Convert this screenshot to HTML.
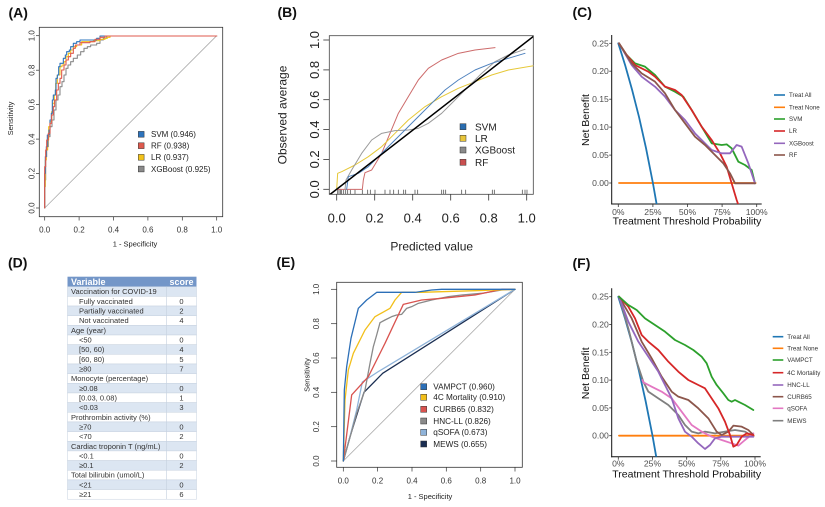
<!DOCTYPE html>
<html>
<head>
<meta charset="utf-8">
<style>
  html,body{margin:0;padding:0;background:#fff;}
  svg{display:block;font-family:"Liberation Sans",Arial,sans-serif;}
  .ns{vector-effect:non-scaling-stroke;fill:none;stroke-linejoin:round;stroke-linecap:round;}
</style>
</head>
<body>
<svg width="825" height="507" viewBox="0 0 825 507" xmlns="http://www.w3.org/2000/svg">
<defs>
  <clipPath id="clipC"><rect x="611.7" y="30" width="152" height="174"/></clipPath>
  <clipPath id="clipF"><rect x="611.7" y="285" width="152" height="171.7"/></clipPath>
  <clipPath id="clipB"><rect x="329.3" y="35.7" width="204" height="158.6"/></clipPath>
</defs>

<!-- ================= PANEL LABELS ================= -->
<g font-weight="bold" font-size="14" fill="#111">
  <text x="8.5" y="17.5">(A)</text>
  <text x="277.5" y="16.8">(B)</text>
  <text x="572.5" y="17">(C)</text>
  <text x="8" y="267.5">(D)</text>
  <text x="276.5" y="266.8">(E)</text>
  <text x="572.5" y="267.8">(F)</text>
</g>

<!-- ================= PANEL A ================= -->
<g>
  <rect x="39.3" y="27.3" width="183.4" height="189.4" fill="none" stroke="#333" stroke-width="0.8"/>
  <line x1="44.7" y1="208" x2="216.7" y2="35.7" stroke="#aaa" stroke-width="0.8"/>
  <g stroke="#333" stroke-width="0.7">
    <line x1="44.7" y1="216.7" x2="44.7" y2="220.5"/>
    <line x1="79.1" y1="216.7" x2="79.1" y2="220.5"/>
    <line x1="113.5" y1="216.7" x2="113.5" y2="220.5"/>
    <line x1="147.9" y1="216.7" x2="147.9" y2="220.5"/>
    <line x1="182.3" y1="216.7" x2="182.3" y2="220.5"/>
    <line x1="216.7" y1="216.7" x2="216.7" y2="220.5"/>
    <line x1="39.3" y1="208" x2="36" y2="208"/>
    <line x1="39.3" y1="173.5" x2="36" y2="173.5"/>
    <line x1="39.3" y1="139.1" x2="36" y2="139.1"/>
    <line x1="39.3" y1="104.6" x2="36" y2="104.6"/>
    <line x1="39.3" y1="70.2" x2="36" y2="70.2"/>
    <line x1="39.3" y1="35.7" x2="36" y2="35.7"/>
  </g>
  <g font-size="8" fill="#333" text-anchor="middle">
    <text x="44.7" y="232.5">0.0</text>
    <text x="79.1" y="232.5">0.2</text>
    <text x="113.5" y="232.5">0.4</text>
    <text x="147.9" y="232.5">0.6</text>
    <text x="182.3" y="232.5">0.8</text>
    <text x="216.7" y="232.5">1.0</text>
    <text transform="translate(34.5,208) rotate(-90)">0.0</text>
    <text transform="translate(34.5,173.5) rotate(-90)">0.2</text>
    <text transform="translate(34.5,139.1) rotate(-90)">0.4</text>
    <text transform="translate(34.5,104.6) rotate(-90)">0.6</text>
    <text transform="translate(34.5,70.2) rotate(-90)">0.8</text>
    <text transform="translate(34.5,35.7) rotate(-90)">1.0</text>
  </g>
  <text x="135" y="246.5" font-size="7.5" fill="#222" text-anchor="middle">1 - Specificity</text>
  <text transform="translate(13,118.5) rotate(-90)" font-size="7.5" fill="#222" text-anchor="middle">Sensitivity</text>

  <g transform="scale(0.33333)">
    <path class="ns" stroke="#8a8a8a" stroke-width="1.1" d="M134,624 V540 H137 V470 H140 V440 H145 V410 H150 V380 H156 V360 H162 V330 H168 V300 H174 V285 H180 V260 H186 V245 H192 V225 H198 V205 H204 V195 H212 V185 H220 V175 H232 V165 H242 V155 H252 V145 H262 V140 H272 V135 H290 V130 H300 V120 H310 V115 H320 V108 H650"/>
    <path class="ns" stroke="#f2c21b" stroke-width="1.1" d="M134,624 V560 H136 V480 H139 V450 H143 V420 H146 V380 H150 V365 H155 V335 H158 V310 H163 V285 H167 V250 H172 V225 H180 V200 H186 V195 H192 V185 H198 V170 H205 V160 H212 V150 H220 V140 H230 V135 H245 V125 H280 V122 H300 V118 H315 V115 H322 V112 H330 V108 H650"/>
    <path class="ns" stroke="#2e74bd" stroke-width="1.1" d="M134,624 V520 H136 V470 H139 V440 H142 V405 H147 V390 H150 V360 H154 V340 H157 V300 H160 V285 H166 V270 H168 V235 H172 V225 H176 V200 H180 V190 H190 V175 H196 V165 H200 V155 H208 V150 H212 V140 H220 V130 H230 V125 H240 V120 H290 V115 H300 V108 H650"/>
    <path class="ns" stroke="#df5a4e" stroke-width="1.1" d="M134,624 V500 H137 V450 H140 V420 H145 V400 H150 V370 H155 V345 H160 V320 H164 V300 H170 V270 H175 V250 H180 V235 H185 V210 H192 V195 H198 V180 H205 V170 H212 V160 H220 V145 H226 V135 H240 V128 H270 V125 H285 V118 H300 V112 H315 V108 H650"/>
  </g>

  <g stroke="#333" stroke-width="0.5">
    <rect x="138.3" y="131.4" width="5.8" height="5.8" fill="#2e74bd"/>
    <rect x="138.3" y="142.8" width="5.8" height="5.8" fill="#df5a4e"/>
    <rect x="138.3" y="154.4" width="5.8" height="5.8" fill="#f2c21b"/>
    <rect x="138.3" y="166.1" width="5.8" height="5.8" fill="#8a8a8a"/>
  </g>
  <g font-size="8" fill="#222">
    <text x="151" y="137.2">SVM (0.946)</text>
    <text x="151" y="148.6">RF (0.938)</text>
    <text x="151" y="160.2">LR (0.937)</text>
    <text x="151" y="171.9">XGBoost (0.925)</text>
  </g>
</g>

<!-- ================= PANEL B ================= -->
<g>
  <rect x="329.3" y="35.7" width="204" height="158.6" fill="none" stroke="#444" stroke-width="0.8"/>
  <g stroke="#333" stroke-width="0.8">
    <line x1="336.7" y1="194.3" x2="336.7" y2="200.5"/>
    <line x1="374.7" y1="194.3" x2="374.7" y2="200.5"/>
    <line x1="412.7" y1="194.3" x2="412.7" y2="200.5"/>
    <line x1="450.7" y1="194.3" x2="450.7" y2="200.5"/>
    <line x1="488.7" y1="194.3" x2="488.7" y2="200.5"/>
    <line x1="526.7" y1="194.3" x2="526.7" y2="200.5"/>
    <line x1="329.3" y1="189.3" x2="323.3" y2="189.3"/>
    <line x1="329.3" y1="159.4" x2="323.3" y2="159.4"/>
    <line x1="329.3" y1="129.6" x2="323.3" y2="129.6"/>
    <line x1="329.3" y1="99.7" x2="323.3" y2="99.7"/>
    <line x1="329.3" y1="69.9" x2="323.3" y2="69.9"/>
    <line x1="329.3" y1="40" x2="323.3" y2="40"/>
  </g>
  <g font-size="13" fill="#222" text-anchor="middle">
    <text x="336.7" y="222.5">0.0</text>
    <text x="374.7" y="222.5">0.2</text>
    <text x="412.7" y="222.5">0.4</text>
    <text x="450.7" y="222.5">0.6</text>
    <text x="488.7" y="222.5">0.8</text>
    <text x="526.7" y="222.5">1.0</text>
    <text transform="translate(319,189.3) rotate(-90)">0.0</text>
    <text transform="translate(319,159.4) rotate(-90)">0.2</text>
    <text transform="translate(319,129.6) rotate(-90)">0.4</text>
    <text transform="translate(319,99.7) rotate(-90)">0.6</text>
    <text transform="translate(319,69.9) rotate(-90)">0.8</text>
    <text transform="translate(319,40) rotate(-90)">1.0</text>
  </g>
  <text x="431.7" y="250.5" font-size="12" fill="#222" text-anchor="middle">Predicted value</text>
  <text transform="translate(286.5,115) rotate(-90)" font-size="12" fill="#222" text-anchor="middle">Observed average</text>

  <g clip-path="url(#clipB)">
  <g transform="translate(275,0) scale(0.33333)">
    <path class="ns" stroke="#555" stroke-width="0.8" d="M188,583V568 M192,583V568 M196,583V568 M200,583V570 M206,583V570 M212,583V570 M218,583V570 M226,583V570 M240,583V570 M262,583V570 M278,583V570 M286,583V570 M300,583V570 M330,583V570 M345,583V570 M356,583V570 M370,583V570 M386,583V570 M392,583V570 M420,583V570 M428,583V570 M500,583V570 M506,583V570 M512,583V570 M560,583V570 M572,583V570 M652,583V570 M658,583V570 M742,583V570 M750,583V570 M756,583V570"/>
    <path class="ns" stroke="#cd6b6b" stroke-width="1" d="M185,568 H262 L265,540 L270,518 L290,510 L320,460 L345,400 L370,340 L400,290 L430,240 L460,205 L500,180 L550,160 L600,150 L660,143"/>
    <path class="ns" stroke="#e6c838" stroke-width="1" d="M185,568 L188,520 L200,515 L240,495 L280,470 L320,440 L360,400 L400,360 L450,320 L500,290 L550,265 L600,245 L650,225 L700,210 L778,197"/>
    <path class="ns" stroke="#9a9a9a" stroke-width="1" d="M210,568 L213,540 L230,510 L260,460 L290,420 L320,400 L360,392 L400,390 L430,385 L460,370 L500,340 L540,300 L580,260 L620,220 L660,185 L700,165 L750,148"/>
    <path class="ns" stroke="#4f82be" stroke-width="1" d="M215,568 L220,530 L250,520 L280,500 L310,470 L340,440 L370,410 L400,380 L430,350 L470,310 L510,270 L550,240 L600,210 L650,190 L700,175 L750,160"/>
    <path class="ns" stroke="#000" stroke-width="1.5" d="M163,585 L778,107"/>
  </g>
  </g>

  <g stroke="#333" stroke-width="0.5">
    <rect x="460" y="123.7" width="6" height="6" fill="#2a6db0"/>
    <rect x="460" y="135.3" width="6" height="6" fill="#e8c53a"/>
    <rect x="460" y="147" width="6" height="6" fill="#8a8a8a"/>
    <rect x="460" y="159.3" width="6" height="6" fill="#c94f4f"/>
  </g>
  <g font-size="10" fill="#222">
    <text x="475" y="130.3">SVM</text>
    <text x="475" y="141.9">LR</text>
    <text x="475" y="153.6">XGBoost</text>
    <text x="475" y="165.9">RF</text>
  </g>
</g>

<!-- ================= PANEL C ================= -->
<g>
  <line x1="611.7" y1="35" x2="611.7" y2="204.5" stroke="#111" stroke-width="1"/>
  <line x1="611.2" y1="204" x2="761.7" y2="204" stroke="#111" stroke-width="1"/>
  <g stroke="#333" stroke-width="0.8">
    <line x1="611.7" y1="43.3" x2="609.2" y2="43.3"/>
    <line x1="611.7" y1="71.2" x2="609.2" y2="71.2"/>
    <line x1="611.7" y1="99.2" x2="609.2" y2="99.2"/>
    <line x1="611.7" y1="127.1" x2="609.2" y2="127.1"/>
    <line x1="611.7" y1="155.1" x2="609.2" y2="155.1"/>
    <line x1="611.7" y1="183" x2="609.2" y2="183"/>
    <line x1="618.3" y1="204" x2="618.3" y2="207"/>
    <line x1="652.9" y1="204" x2="652.9" y2="207"/>
    <line x1="687.5" y1="204" x2="687.5" y2="207"/>
    <line x1="722.1" y1="204" x2="722.1" y2="207"/>
    <line x1="756.7" y1="204" x2="756.7" y2="207"/>
  </g>
  <g font-size="8.6" fill="#4d4d4d" text-anchor="end">
    <text x="608.8" y="46.3">0.25</text>
    <text x="608.8" y="74.2">0.20</text>
    <text x="608.8" y="102.2">0.15</text>
    <text x="608.8" y="130.1">0.10</text>
    <text x="608.8" y="158.1">0.05</text>
    <text x="608.8" y="186">0.00</text>
  </g>
  <g font-size="8.6" fill="#4d4d4d" text-anchor="middle">
    <text x="618.3" y="215">0%</text>
    <text x="652.9" y="215">25%</text>
    <text x="687.5" y="215">50%</text>
    <text x="722.1" y="215">75%</text>
    <text x="756.7" y="215">100%</text>
  </g>
  <text x="687" y="224.5" font-size="10.5" fill="#111" text-anchor="middle">Treatment Threshold Probability</text>
  <text transform="translate(589,120) rotate(-90)" font-size="10.5" fill="#111" text-anchor="middle">Net Benefit</text>

  <g clip-path="url(#clipC)">
  <g transform="translate(605,30) scale(0.33333)">
    <path class="ns" stroke="#ff7f0e" stroke-width="1.8" d="M42,459 H452"/>
    <path class="ns" stroke="#1f77b4" stroke-width="1.8" d="M39.9,39.9 L60.6,106.2 L81.3,179.7 L102.3,261.9 L123,354.3 L143.7,459 L154.8,522 L157,535"/>
    <path class="ns" stroke="#2ca02c" stroke-width="1.8" d="M42,40 L65,75 L90,100 L120,110 L150,135 L180,170 L210,185 L235,200 L260,240 L290,290 L320,340 L350,345 L365,343 L380,355 L400,395 L420,405 L440,420 L450,460"/>
    <path class="ns" stroke="#d62728" stroke-width="1.8" d="M42,40 L65,75 L90,105 L130,125 L150,140 L180,170 L210,180 L230,195 L260,240 L290,290 L320,330 L345,370 L365,410 L380,460 L395,510 L402,530"/>
    <path class="ns" stroke="#9467bd" stroke-width="1.8" d="M42,40 L80,105 L110,140 L150,170 L180,200 L210,240 L240,270 L270,310 L290,330 L320,360 L350,370 L375,370 L395,345 L410,350 L430,400 L450,460"/>
    <path class="ns" stroke="#8c564b" stroke-width="1.8" d="M42,40 L80,100 L110,130 L150,155 L180,190 L210,240 L240,280 L270,320 L300,345 L330,375 L355,400 L375,430 L390,460 L420,460 L450,460"/>
  </g>
  </g>

  <g stroke-width="1.6">
    <line x1="774" y1="95" x2="785" y2="95" stroke="#1f77b4"/>
    <line x1="774" y1="107.3" x2="785" y2="107.3" stroke="#ff7f0e"/>
    <line x1="774" y1="119" x2="785" y2="119" stroke="#2ca02c"/>
    <line x1="774" y1="131" x2="785" y2="131" stroke="#d62728"/>
    <line x1="774" y1="143.3" x2="785" y2="143.3" stroke="#9467bd"/>
    <line x1="774" y1="155" x2="785" y2="155" stroke="#8c564b"/>
  </g>
  <g font-size="6.2" fill="#333">
    <text x="789" y="97.2">Treat All</text>
    <text x="789" y="109.5">Treat None</text>
    <text x="789" y="121.2">SVM</text>
    <text x="789" y="133.2">LR</text>
    <text x="789" y="145.5">XGBoost</text>
    <text x="789" y="157.2">RF</text>
  </g>
</g>

<!-- ================= PANEL D (table) ================= -->
<g font-size="7.5" fill="#333">
  <rect x="67.5" y="276.7" width="129" height="10" fill="#7396c8"/>
  <text x="71" y="285.2" font-size="9" font-weight="bold" fill="#fff">Variable</text>
  <text x="181.5" y="285.2" font-size="9" font-weight="bold" fill="#fff" text-anchor="middle">score</text>

  <g stroke="#c6d1df" stroke-width="0.5">
    <rect x="67.5" y="286.7" width="99" height="9.66" fill="#dce6f2"/><rect x="166.5" y="286.7" width="30" height="9.66" fill="#dce6f2"/>
    <rect x="67.5" y="296.36" width="99" height="9.66" fill="#fff"/><rect x="166.5" y="296.36" width="30" height="9.66" fill="#fff"/>
    <rect x="67.5" y="306.02" width="99" height="9.66" fill="#dce6f2"/><rect x="166.5" y="306.02" width="30" height="9.66" fill="#dce6f2"/>
    <rect x="67.5" y="315.68" width="99" height="9.66" fill="#fff"/><rect x="166.5" y="315.68" width="30" height="9.66" fill="#fff"/>
    <rect x="67.5" y="325.34" width="99" height="9.66" fill="#dce6f2"/><rect x="166.5" y="325.34" width="30" height="9.66" fill="#dce6f2"/>
    <rect x="67.5" y="335" width="99" height="9.66" fill="#fff"/><rect x="166.5" y="335" width="30" height="9.66" fill="#fff"/>
    <rect x="67.5" y="344.66" width="99" height="9.66" fill="#dce6f2"/><rect x="166.5" y="344.66" width="30" height="9.66" fill="#dce6f2"/>
    <rect x="67.5" y="354.32" width="99" height="9.66" fill="#fff"/><rect x="166.5" y="354.32" width="30" height="9.66" fill="#fff"/>
    <rect x="67.5" y="363.98" width="99" height="9.66" fill="#dce6f2"/><rect x="166.5" y="363.98" width="30" height="9.66" fill="#dce6f2"/>
    <rect x="67.5" y="373.64" width="99" height="9.66" fill="#fff"/><rect x="166.5" y="373.64" width="30" height="9.66" fill="#fff"/>
    <rect x="67.5" y="383.3" width="99" height="9.66" fill="#dce6f2"/><rect x="166.5" y="383.3" width="30" height="9.66" fill="#dce6f2"/>
    <rect x="67.5" y="392.96" width="99" height="9.66" fill="#fff"/><rect x="166.5" y="392.96" width="30" height="9.66" fill="#fff"/>
    <rect x="67.5" y="402.62" width="99" height="9.66" fill="#dce6f2"/><rect x="166.5" y="402.62" width="30" height="9.66" fill="#dce6f2"/>
    <rect x="67.5" y="412.28" width="99" height="9.66" fill="#fff"/><rect x="166.5" y="412.28" width="30" height="9.66" fill="#fff"/>
    <rect x="67.5" y="421.94" width="99" height="9.66" fill="#dce6f2"/><rect x="166.5" y="421.94" width="30" height="9.66" fill="#dce6f2"/>
    <rect x="67.5" y="431.6" width="99" height="9.66" fill="#fff"/><rect x="166.5" y="431.6" width="30" height="9.66" fill="#fff"/>
    <rect x="67.5" y="441.26" width="99" height="9.66" fill="#dce6f2"/><rect x="166.5" y="441.26" width="30" height="9.66" fill="#dce6f2"/>
    <rect x="67.5" y="450.92" width="99" height="9.66" fill="#fff"/><rect x="166.5" y="450.92" width="30" height="9.66" fill="#fff"/>
    <rect x="67.5" y="460.58" width="99" height="9.66" fill="#dce6f2"/><rect x="166.5" y="460.58" width="30" height="9.66" fill="#dce6f2"/>
    <rect x="67.5" y="470.24" width="99" height="9.66" fill="#fff"/><rect x="166.5" y="470.24" width="30" height="9.66" fill="#fff"/>
    <rect x="67.5" y="479.9" width="99" height="9.66" fill="#dce6f2"/><rect x="166.5" y="479.9" width="30" height="9.66" fill="#dce6f2"/>
    <rect x="67.5" y="489.56" width="99" height="9.66" fill="#fff"/><rect x="166.5" y="489.56" width="30" height="9.66" fill="#fff"/>
  </g>

  <text x="71" y="294.2">Vaccination for COVID-19</text>
  <text x="79" y="303.9">Fully vaccinated</text><text x="181.5" y="303.9" text-anchor="middle">0</text>
  <text x="79" y="313.5">Partially vaccinated</text><text x="181.5" y="313.5" text-anchor="middle">2</text>
  <text x="79" y="323.2">Not vaccinated</text><text x="181.5" y="323.2" text-anchor="middle">4</text>
  <text x="71" y="332.8">Age (year)</text>
  <text x="79" y="342.5">&lt;50</text><text x="181.5" y="342.5" text-anchor="middle">0</text>
  <text x="79" y="352.2">[50, 60)</text><text x="181.5" y="352.2" text-anchor="middle">4</text>
  <text x="79" y="361.8">[60, 80)</text><text x="181.5" y="361.8" text-anchor="middle">5</text>
  <text x="79" y="371.5">≥80</text><text x="181.5" y="371.5" text-anchor="middle">7</text>
  <text x="71" y="381.1">Monocyte (percentage)</text>
  <text x="79" y="390.8">≥0.08</text><text x="181.5" y="390.8" text-anchor="middle">0</text>
  <text x="79" y="400.5">[0.03, 0.08)</text><text x="181.5" y="400.5" text-anchor="middle">1</text>
  <text x="79" y="410.1">&lt;0.03</text><text x="181.5" y="410.1" text-anchor="middle">3</text>
  <text x="71" y="419.8">Prothrombin activity (%)</text>
  <text x="79" y="429.4">≥70</text><text x="181.5" y="429.4" text-anchor="middle">0</text>
  <text x="79" y="439.1">&lt;70</text><text x="181.5" y="439.1" text-anchor="middle">2</text>
  <text x="71" y="448.8">Cardiac troponin T (ng/mL)</text>
  <text x="79" y="458.4">&lt;0.1</text><text x="181.5" y="458.4" text-anchor="middle">0</text>
  <text x="79" y="468.1">≥0.1</text><text x="181.5" y="468.1" text-anchor="middle">2</text>
  <text x="71" y="477.7">Total bilirubin (umol/L)</text>
  <text x="79" y="487.4">&lt;21</text><text x="181.5" y="487.4" text-anchor="middle">0</text>
  <text x="79" y="497.1">≥21</text><text x="181.5" y="497.1" text-anchor="middle">6</text>
</g>

<!-- ================= PANEL E ================= -->
<g>
  <rect x="336.7" y="282.3" width="185.6" height="185" fill="none" stroke="#333" stroke-width="0.8"/>
  <line x1="343.3" y1="461" x2="515" y2="289.3" stroke="#aaa" stroke-width="0.8"/>
  <g stroke="#333" stroke-width="0.7">
    <line x1="343.3" y1="467.3" x2="343.3" y2="471.5"/>
    <line x1="377.6" y1="467.3" x2="377.6" y2="471.5"/>
    <line x1="412" y1="467.3" x2="412" y2="471.5"/>
    <line x1="446.3" y1="467.3" x2="446.3" y2="471.5"/>
    <line x1="480.7" y1="467.3" x2="480.7" y2="471.5"/>
    <line x1="515" y1="467.3" x2="515" y2="471.5"/>
    <line x1="336.7" y1="461" x2="331" y2="461"/>
    <line x1="336.7" y1="426.7" x2="331" y2="426.7"/>
    <line x1="336.7" y1="392.3" x2="331" y2="392.3"/>
    <line x1="336.7" y1="358" x2="331" y2="358"/>
    <line x1="336.7" y1="323.7" x2="331" y2="323.7"/>
    <line x1="336.7" y1="289.3" x2="331" y2="289.3"/>
  </g>
  <g font-size="8" fill="#333" text-anchor="middle">
    <text x="343.3" y="483.3">0.0</text>
    <text x="377.6" y="483.3">0.2</text>
    <text x="412" y="483.3">0.4</text>
    <text x="446.3" y="483.3">0.6</text>
    <text x="480.7" y="483.3">0.8</text>
    <text x="515" y="483.3">1.0</text>
    <text transform="translate(319,461) rotate(-90)">0.0</text>
    <text transform="translate(319,426.7) rotate(-90)">0.2</text>
    <text transform="translate(319,392.3) rotate(-90)">0.4</text>
    <text transform="translate(319,358) rotate(-90)">0.6</text>
    <text transform="translate(319,323.7) rotate(-90)">0.8</text>
    <text transform="translate(319,289.3) rotate(-90)">1.0</text>
  </g>
  <text x="430" y="499" font-size="7.5" fill="#222" text-anchor="middle">1 - Specificity</text>
  <text transform="translate(309.5,375) rotate(-90)" font-size="7.5" fill="#222" text-anchor="middle">Sensitivity</text>

  <g transform="translate(275,250) scale(0.33333)">
    <path class="ns" stroke="#1a2e52" stroke-width="1.3" d="M205,633 L225,560 L250,480 L267,427 L323,370 L720,118"/>
    <path class="ns" stroke="#8fb3d9" stroke-width="1.3" d="M205,633 L225,560 L245,480 L262,396 L308,366 L720,118"/>
    <path class="ns" stroke="#8a8a8a" stroke-width="1.3" d="M205,633 L220,580 L245,490 L270,420 L285,340 L295,290 L305,255 L315,218 L330,210 L350,200 L365,195 L380,193 L395,175 L410,170 L430,160 L470,150 L520,140 L560,135 L620,130 L680,120 L720,118"/>
    <path class="ns" stroke="#d9534f" stroke-width="1.3" d="M205,633 L230,435 L280,380 L330,280 L385,163 L440,150 L500,145 L600,135 L680,118 L720,118"/>
    <path class="ns" stroke="#f2bf1a" stroke-width="1.3" d="M205,633 L210,450 L220,360 L235,310 L250,280 L270,240 L300,200 L345,175 L360,150 L380,127 L440,127 L500,125 L600,122 L720,118"/>
    <path class="ns" stroke="#2c6fb7" stroke-width="1.3" d="M205,633 L208,420 L215,350 L228,265 L250,175 L275,150 L305,127 L420,127 L470,120 L500,118 L720,118"/>
  </g>

  <g stroke="#333" stroke-width="0.5">
    <rect x="420.7" y="383.7" width="6" height="6" fill="#2c6fb7"/>
    <rect x="420.7" y="394.3" width="6" height="6" fill="#f2bf1a"/>
    <rect x="420.7" y="406.3" width="6" height="6" fill="#d9534f"/>
    <rect x="420.7" y="418" width="6" height="6" fill="#8a8a8a"/>
    <rect x="420.7" y="429.3" width="6" height="6" fill="#8fb3d9"/>
    <rect x="420.7" y="441" width="6" height="6" fill="#1a2e52"/>
  </g>
  <g font-size="8.2" fill="#222">
    <text x="433.3" y="389.6">VAMPCT (0.960)</text>
    <text x="433.3" y="400.2">4C Mortality (0.910)</text>
    <text x="433.3" y="412.2">CURB65 (0.832)</text>
    <text x="433.3" y="423.9">HNC-LL (0.826)</text>
    <text x="433.3" y="435.2">qSOFA (0.673)</text>
    <text x="433.3" y="446.9">MEWS (0.655)</text>
  </g>
</g>

<!-- ================= PANEL F ================= -->
<g>
  <line x1="611.7" y1="288.3" x2="611.7" y2="457.2" stroke="#111" stroke-width="1"/>
  <line x1="611.2" y1="456.7" x2="760.7" y2="456.7" stroke="#111" stroke-width="1"/>
  <g stroke="#333" stroke-width="0.8">
    <line x1="611.7" y1="296.7" x2="609.2" y2="296.7"/>
    <line x1="611.7" y1="324.5" x2="609.2" y2="324.5"/>
    <line x1="611.7" y1="352.3" x2="609.2" y2="352.3"/>
    <line x1="611.7" y1="380.1" x2="609.2" y2="380.1"/>
    <line x1="611.7" y1="407.9" x2="609.2" y2="407.9"/>
    <line x1="611.7" y1="435.7" x2="609.2" y2="435.7"/>
    <line x1="618.3" y1="456.7" x2="618.3" y2="459.7"/>
    <line x1="652.5" y1="456.7" x2="652.5" y2="459.7"/>
    <line x1="686.7" y1="456.7" x2="686.7" y2="459.7"/>
    <line x1="720.8" y1="456.7" x2="720.8" y2="459.7"/>
    <line x1="755" y1="456.7" x2="755" y2="459.7"/>
  </g>
  <g font-size="8.6" fill="#4d4d4d" text-anchor="end">
    <text x="608.8" y="299.7">0.25</text>
    <text x="608.8" y="327.5">0.20</text>
    <text x="608.8" y="355.3">0.15</text>
    <text x="608.8" y="383.1">0.10</text>
    <text x="608.8" y="410.9">0.05</text>
    <text x="608.8" y="438.7">0.00</text>
  </g>
  <g font-size="8.6" fill="#4d4d4d" text-anchor="middle">
    <text x="618.3" y="466.5">0%</text>
    <text x="652.5" y="466.5">25%</text>
    <text x="686.7" y="466.5">50%</text>
    <text x="720.8" y="466.5">75%</text>
    <text x="755" y="466.5">100%</text>
  </g>
  <text x="686.7" y="477.3" font-size="10.5" fill="#111" text-anchor="middle">Treatment Threshold Probability</text>
  <text transform="translate(589,373.3) rotate(-90)" font-size="10.5" fill="#111" text-anchor="middle">Net Benefit</text>

  <g clip-path="url(#clipF)">
  <g transform="translate(605,285) scale(0.33333)">
    <path class="ns" stroke="#ff7f0e" stroke-width="1.8" d="M42,452 H446"/>
    <path class="ns" stroke="#1f77b4" stroke-width="1.8" d="M39.9,35.1 L60.3,101.1 L81,174 L101.4,255.9 L121.8,348 L142.5,452.1 L153.6,515 L156,530"/>
    <path class="ns" stroke="#7f7f7f" stroke-width="1.8" d="M42,35 L70,130 L95,230 L115,290 L130,320 L160,340 L190,360 L220,390 L240,420 L260,440 L280,445 L300,440 L330,445 L360,440 L390,435 L420,440 L445,455"/>
    <path class="ns" stroke="#e377c2" stroke-width="1.8" d="M112,285 L115,292 L140,305 L170,320 L200,340 L230,380 L260,420 L290,440 L320,455 L350,465 L380,475 L400,482 L420,465 L445,445"/>
    <path class="ns" stroke="#8c564b" stroke-width="1.8" d="M42,35 L80,100 L110,170 L140,220 L170,275 L200,320 L220,335 L250,345 L280,370 L310,400 L335,440 L350,450 L370,440 L385,422 L410,425 L430,435 L445,450"/>
    <path class="ns" stroke="#9467bd" stroke-width="1.8" d="M42,35 L70,110 L100,170 L130,215 L160,260 L180,300 L200,340 L220,400 L240,440 L260,455 L280,475 L300,492 L315,480 L330,460 L350,455 L445,455"/>
    <path class="ns" stroke="#d62728" stroke-width="1.8" d="M42,35 L70,65 L90,100 L110,150 L130,170 L160,195 L190,230 L220,260 L250,285 L280,300 L300,310 L320,340 L340,370 L360,410 L375,450 L385,485 L395,480 L410,455 L425,445 L445,450"/>
    <path class="ns" stroke="#2ca02c" stroke-width="1.8" d="M42,35 L70,60 L95,75 L120,100 L150,120 L180,140 L210,165 L240,180 L265,195 L290,215 L305,235 L320,275 L335,300 L355,325 L370,345 L380,350 L390,345 L400,350 L420,360 L445,375"/>
  </g>
  </g>

  <g stroke-width="1.6">
    <line x1="772.7" y1="336.7" x2="783.3" y2="336.7" stroke="#1f77b4"/>
    <line x1="772.7" y1="348.3" x2="783.3" y2="348.3" stroke="#ff7f0e"/>
    <line x1="772.7" y1="360" x2="783.3" y2="360" stroke="#2ca02c"/>
    <line x1="772.7" y1="372.7" x2="783.3" y2="372.7" stroke="#d62728"/>
    <line x1="772.7" y1="385" x2="783.3" y2="385" stroke="#9467bd"/>
    <line x1="772.7" y1="396.7" x2="783.3" y2="396.7" stroke="#8c564b"/>
    <line x1="772.7" y1="408.3" x2="783.3" y2="408.3" stroke="#e377c2"/>
    <line x1="772.7" y1="420.7" x2="783.3" y2="420.7" stroke="#7f7f7f"/>
  </g>
  <g font-size="6.2" fill="#333">
    <text x="787.3" y="338.9">Treat All</text>
    <text x="787.3" y="350.5">Treat None</text>
    <text x="787.3" y="362.2">VAMPCT</text>
    <text x="787.3" y="374.9">4C Mortality</text>
    <text x="787.3" y="387.2">HNC-LL</text>
    <text x="787.3" y="398.9">CURB65</text>
    <text x="787.3" y="410.5">qSOFA</text>
    <text x="787.3" y="422.9">MEWS</text>
  </g>
</g>
</svg>
</body>
</html>
